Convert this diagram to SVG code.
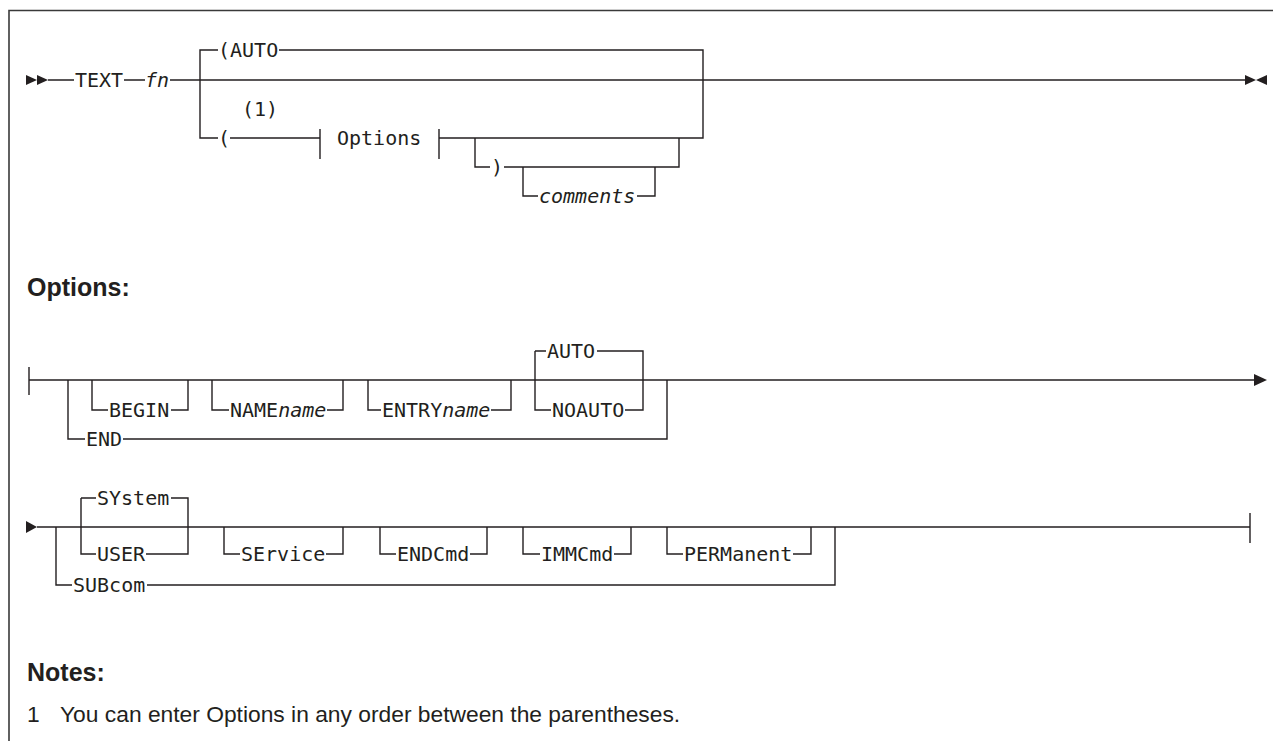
<svg xmlns="http://www.w3.org/2000/svg" width="1273" height="741" viewBox="0 0 1273 741">
<style>
.bg{fill:#ffffff}
.frame{fill:none;stroke:#3a3a3a;stroke-width:1.6}
.ln{fill:none;stroke:#231f20;stroke-width:1.4}
.ah{fill:#231f20;stroke:none}
.t{font-family:"DejaVu Sans Mono","Liberation Mono",monospace;font-size:20px;fill:#231f20}
.i{font-style:italic}
.h{font-family:"Liberation Sans",Arial,sans-serif;font-weight:bold;font-size:25px;fill:#231f20}
.n{font-family:"Liberation Sans",Arial,sans-serif;font-size:22.8px;fill:#231f20}
</style>
<rect class="bg" x="0" y="0" width="1273" height="741"/>
<path class="frame" d="M9 741 V10.5 H1273"/>

<g id="connectors">
  <!-- main diagram -->
  <polygon class="ah" points="26,75 37,80 26,85"/>
  <polygon class="ah" points="37,75 48,80 37,85"/>
  <path class="ln" d="M48 80 H74 M124 80 H145 M170 80 H1245"/>
  <polygon class="ah" points="1245,75 1256,80 1245,85"/>
  <polygon class="ah" points="1267,75 1256,80 1267,85"/>
  <path class="ln" d="M200 80 V50 H218 M279 50 H703 V138 H439"/>
  <path class="ln" d="M200 80 V138 H218 M230 138 H320"/>
  <path class="ln" d="M320 129 V159 M439 129 V159"/>
  <path class="ln" d="M475 138 V167 H490 M504 167 H679 V138"/>
  <path class="ln" d="M523 167 V196 H538 M637 196 H655 V167"/>

  <!-- Options fragment row 1 -->
  <path class="ln" d="M29 367 V395 M29 380 H1255"/>
  <polygon class="ah" points="1254,374 1267,380 1254,386"/>
  <path class="ln" d="M68 380 V439 H85 M123 439 H667 V380"/>
  <path class="ln" d="M92 380 V410 H108 M171 410 H188 V380"/>
  <path class="ln" d="M212 380 V410 H229 M327 410 H343 V380"/>
  <path class="ln" d="M368 380 V410 H381 M491 410 H511 V380"/>
  <path class="ln" d="M535 351 V410 H551 M625 410 H643 V351 H597 M535 351 H546"/>

  <!-- Options fragment row 2 -->
  <polygon class="ah" points="26,521 37,527 26,533"/>
  <path class="ln" d="M37 527 H1250 M1250 513 V543"/>
  <path class="ln" d="M56 527 V585 H72 M147 585 H835 V527"/>
  <path class="ln" d="M81 498 V554 H96 M146 554 H188 V498 H171 M81 498 H96"/>
  <path class="ln" d="M224 527 V554 H240 M326 554 H343 V527"/>
  <path class="ln" d="M380 527 V554 H396 M470 554 H487 V527"/>
  <path class="ln" d="M523 527 V554 H540 M614 554 H631 V527"/>
  <path class="ln" d="M667 527 V554 H683 M793 554 H811 V527"/>
</g>

<g id="n-text"><text class="t" x="75" y="87">TEXT</text></g>
<g id="n-fn"><text class="t i" x="145" y="87">fn</text></g>
<g id="n-auto-paren"><text class="t" x="218" y="57">(AUTO</text></g>
<g id="n-note1"><text class="t" x="242" y="116">(1)</text></g>
<g id="n-open-paren"><text class="t" x="218" y="145">(</text></g>
<g id="n-options-ref"><text class="t" x="337" y="145">Options</text></g>
<g id="n-close-paren"><text class="t" x="491" y="174">)</text></g>
<g id="n-comments"><text class="t i" x="539" y="203">comments</text></g>

<g id="h-options"><text class="h" x="27" y="296">Options:</text></g>

<g id="n-begin"><text class="t" x="109" y="417">BEGIN</text></g>
<g id="n-name"><text class="t" x="230" y="417">NAME<tspan class="i">name</tspan></text></g>
<g id="n-entry"><text class="t" x="382" y="417">ENTRY<tspan class="i">name</tspan></text></g>
<g id="n-auto"><text class="t" x="547" y="358">AUTO</text></g>
<g id="n-noauto"><text class="t" x="552" y="417">NOAUTO</text></g>
<g id="n-end"><text class="t" x="86" y="446">END</text></g>

<g id="n-system"><text class="t" x="97" y="505">SYstem</text></g>
<g id="n-user"><text class="t" x="97" y="561">USER</text></g>
<g id="n-subcom"><text class="t" x="73" y="592">SUBcom</text></g>
<g id="n-service"><text class="t" x="241" y="561">SErvice</text></g>
<g id="n-endcmd"><text class="t" x="397" y="561">ENDCmd</text></g>
<g id="n-immcmd"><text class="t" x="541" y="561">IMMCmd</text></g>
<g id="n-permanent"><text class="t" x="684" y="561">PERManent</text></g>

<g id="h-notes"><text class="h" x="27" y="681">Notes:</text></g>
<g id="note-1">
  <text class="n" x="27" y="722">1</text>
  <text class="n" x="60" y="722">You can enter Options in any order between the parentheses.</text>
</g>
</svg>
